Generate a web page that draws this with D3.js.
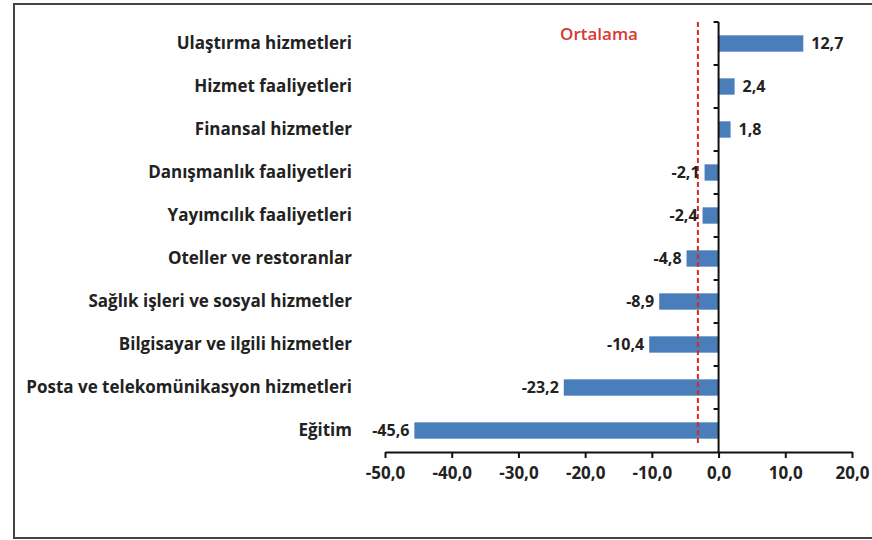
<!DOCTYPE html>
<html>
<head>
<meta charset="utf-8">
<script src="https://cdn.jsdelivr.net/npm/d3@7"></script>
<style>
  body { margin: 0; background: #fff; }
  text { font-family: "Open Sans", Lato, sans-serif; font-weight: bold; fill: #222; }
</style>
</head>
<body>
<div id="container"></div>
<script>
/* DATA */
const categories = [
  "Ulaştırma hizmetleri",
  "Hizmet faaliyetleri",
  "Finansal hizmetler",
  "Danışmanlık faaliyetleri",
  "Yayımcılık faaliyetleri",
  "Oteller ve restoranlar",
  "Sağlık işleri ve sosyal hizmetler",
  "Bilgisayar ve ilgili hizmetler",
  "Posta ve telekomünikasyon hizmetleri",
  "Eğitim"
];
const values = [12.7, 2.4, 1.8, -2.1, -2.4, -4.8, -8.9, -10.4, -23.2, -45.6];
const xTicks = [-50, -40, -30, -20, -10, 0, 10, 20];
const average = -3.1;
const averageLabel = "Ortalama";

/* CONSTANTS */
const width = 872,
  height = 540,
  margin = { top: 22, bottom: 88, left: 385, right: 20 };

// Turkish style numbers: comma decimals, plain hyphen minus
const fmt = d => d.toFixed(1).replace(".", ",");

const svg = d3.select("#container")
  .append("svg")
  .attr("width", width)
  .attr("height", height);

// outer frame
svg.append("rect")
  .attr("x", 14).attr("y", 4)
  .attr("width", 880).attr("height", 534)
  .attr("fill", "none")
  .attr("stroke", "#444")
  .attr("stroke-width", 2);

// SCALES
const xScale = d3.scaleLinear()
  .domain([-50, 20])
  .range([margin.left, width - margin.right]);

const yScale = d3.scaleBand()
  .domain(categories)
  .range([margin.top, height - margin.bottom])
  .paddingInner(0.62)
  .paddingOuter(0.31);

const axisY = height - margin.bottom;

// BARS
svg.selectAll("rect.bar")
  .data(values)
  .join("rect")
  .attr("class", "bar")
  .attr("x", d => xScale(Math.min(0, d)))
  .attr("y", (d, i) => yScale(categories[i]))
  .attr("width", d => Math.abs(xScale(d) - xScale(0)))
  .attr("height", yScale.bandwidth())
  .attr("fill", "#4a7ebb");

// AVERAGE LINE
svg.append("line")
  .attr("x1", xScale(average)).attr("x2", xScale(average))
  .attr("y1", margin.top).attr("y2", axisY - 8)
  .attr("stroke", "#e0281f")
  .attr("stroke-width", 2)
  .attr("stroke-dasharray", "5,3");

svg.append("text")
  .attr("x", 599)
  .attr("y", 40)
  .attr("text-anchor", "middle")
  .style("font-weight", "600")
  .style("font-size", "17px")
  .style("fill", "#d63a32")
  .text(averageLabel);

// X AXIS
const xAxis = d3.axisBottom(xScale)
  .tickValues(xTicks)
  .tickFormat(fmt)
  .tickSize(6)
  .tickSizeOuter(0)
  .tickPadding(9);

const gx = svg.append("g")
  .attr("transform", `translate(0, ${axisY})`)
  .call(xAxis);
gx.select(".domain").attr("stroke", "#111").attr("stroke-width", 2);
gx.selectAll(".tick line").attr("stroke", "#111").attr("stroke-width", 2);
gx.selectAll(".tick text").style("font-size", "17px").attr("fill", "#222");

// Y AXIS (at zero, band boundary ticks)
const bandStep = yScale.step();
const boundaries = d3.range(categories.length + 1).map(i => margin.top + i * bandStep);

svg.append("line")
  .attr("x1", xScale(0)).attr("x2", xScale(0))
  .attr("y1", margin.top).attr("y2", axisY)
  .attr("stroke", "#111")
  .attr("stroke-width", 2);

svg.selectAll("line.ytick")
  .data(boundaries.slice(0, -1))
  .join("line")
  .attr("class", "ytick")
  .attr("x1", xScale(0) - 5).attr("x2", xScale(0))
  .attr("y1", d => d).attr("y2", d => d)
  .attr("stroke", "#111")
  .attr("stroke-width", 2);

// CATEGORY LABELS
svg.selectAll("text.cat")
  .data(categories)
  .join("text")
  .attr("class", "cat")
  .attr("x", 352)
  .attr("y", d => yScale(d) + yScale.bandwidth() / 2)
  .attr("dy", "0.35em")
  .attr("text-anchor", "end")
  .style("font-size", "17px")
  .text(d => d);

// VALUE LABELS
svg.selectAll("text.val")
  .data(values)
  .join("text")
  .attr("class", "val")
  .attr("x", d => d >= 0 ? xScale(d) + 8 : xScale(d) - 5)
  .attr("y", (d, i) => yScale(categories[i]) + yScale.bandwidth() / 2)
  .attr("dy", "0.35em")
  .attr("text-anchor", d => d >= 0 ? "start" : "end")
  .style("font-size", "16px")
  .text(fmt);
</script>
</body>
</html>
